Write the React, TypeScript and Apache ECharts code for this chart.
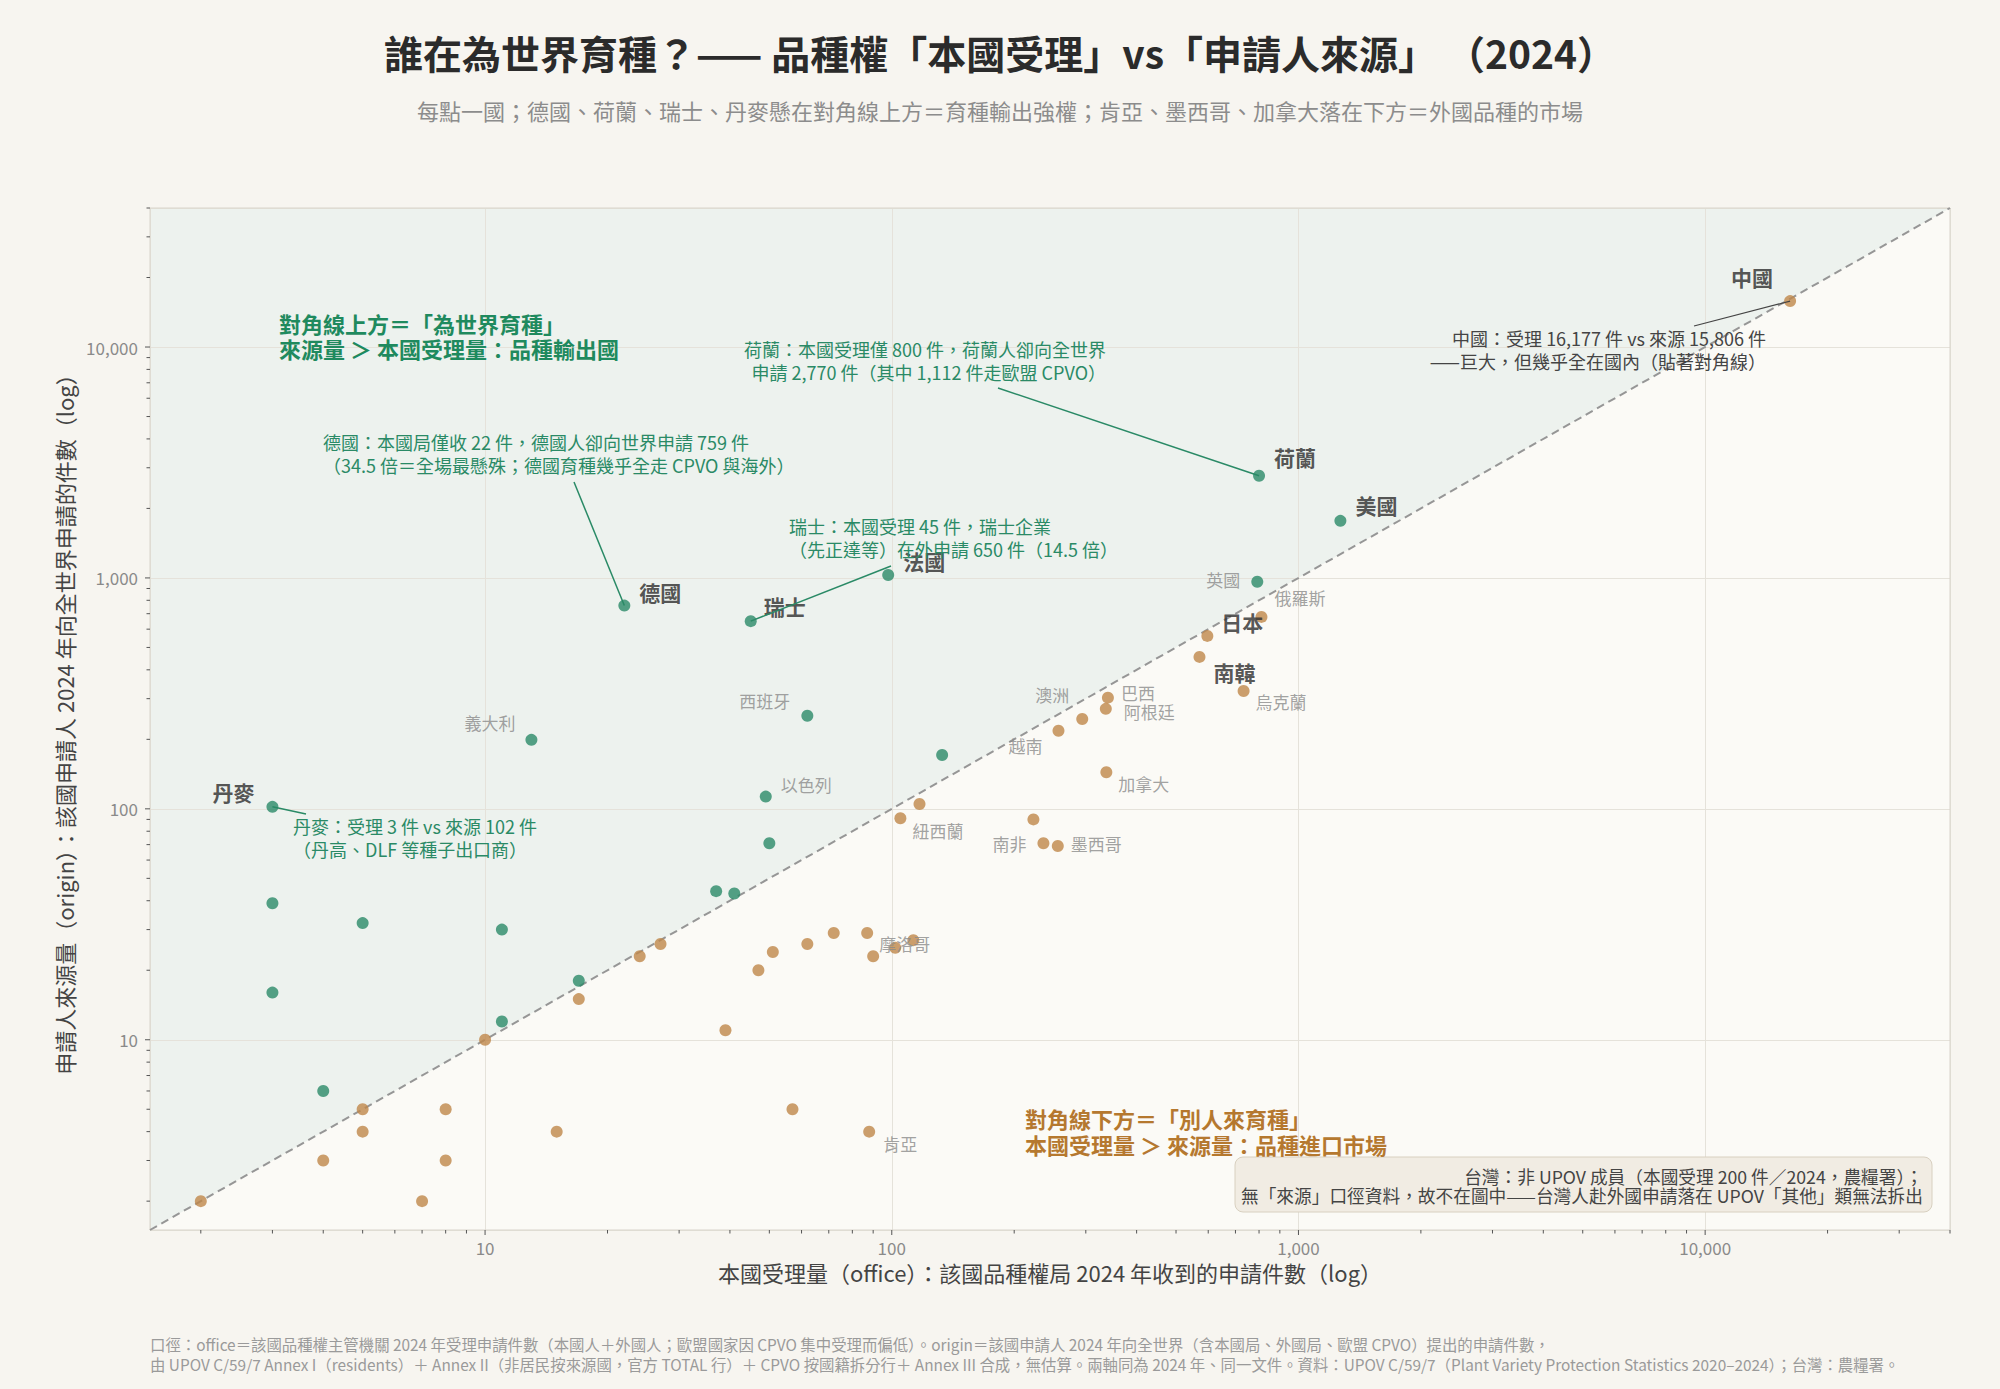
import React, { useEffect, useRef } from "react";
import * as echarts from "echarts";

const FONT = '"Noto Sans CJK TC", "Noto Sans", sans-serif';
const GREEN = "#2a8a68";
const BROWN = "#bf874a";
const NOTE_GREEN = "#2a8a66";

// 兩軸範圍（log）
const AXIS_MIN = 1.5;
const AXIS_MAX = 40000;

// 每點一國：本國受理量 (office) 與申請人來源量 (origin)
const names = [
  "中國", "荷蘭", "美國", "英國", "俄羅斯", "日本", "南韓", "烏克蘭",
  "法國", "德國", "瑞士", "丹麥", "義大利", "西班牙", "以色列",
  "巴西", "阿根廷", "澳洲", "越南", "加拿大", "紐西蘭", "南非", "墨西哥", "摩洛哥", "肯亞",
  "", "", "", "", "", "", "", "", "", "", "",
  "", "", "", "", "", "", "", "", "", "", "", "", "",
  "", "", "", "", "", "", "", "", "", "",
];
const office = [
  16177, 800, 1268, 792, 811, 597, 571, 733,
  98, 22, 45, 3, 13, 62, 49,
  340, 336, 294, 257, 337, 105, 236, 256, 87, 88,
  133, 50, 37, 41, 3, 5, 11, 3, 17, 11, 4,
  117, 223, 72, 62, 51, 47, 90, 102, 113, 39, 17, 24, 27,
  10, 5, 5, 8, 8, 4, 2, 7, 15, 57,
];
const origin = [
  15806, 2770, 1767, 962, 678, 561, 455, 324,
  1030, 759, 650, 102, 199, 253, 113,
  303, 271, 245, 218, 144, 91, 71, 69, 29, 4,
  171, 71, 44, 43, 39, 32, 30, 16, 18, 12, 6,
  105, 90, 29, 26, 24, 20, 23, 25, 27, 11, 15, 23, 26,
  10, 5, 4, 5, 3, 3, 2, 2, 4, 5,
];

// 軸刻度：10 的次方與其間的 2–9 倍
const majorTicks = [10, 100, 1000, 10000];
const minorSteps = [2, 3, 4, 5, 6, 7, 8, 9];

// 國名標籤的位置：[方向, 與點中心的水平距離, 垂直偏移, 粗體]
const labelPlace: Record<string, [string, number, number, boolean]> = {
  中國: ["left", 17, -24, true],
  荷蘭: ["right", 15, -19, true],
  美國: ["right", 15, -16, true],
  德國: ["right", 15, -14, true],
  瑞士: ["right", 13, -15, true],
  法國: ["right", 15, -14, true],
  日本: ["right", 14, -14, true],
  南韓: ["right", 14, 15, true],
  丹麥: ["left", 18, -15, true],
  英國: ["left", 17, -2, false],
  俄羅斯: ["right", 13, -19, false],
  烏克蘭: ["right", 12, 11, false],
  巴西: ["right", 13, -5, false],
  阿根廷: ["right", 18, 3, false],
  澳洲: ["left", 13, -24, false],
  越南: ["left", 16, 15, false],
  加拿大: ["right", 12, 11, false],
  紐西蘭: ["right", 12, 12, false],
  南非: ["left", 17, 0, false],
  墨西哥: ["right", 13, -3, false],
  摩洛哥: ["right", 12, 11, false],
  肯亞: ["right", 14, 12, false],
  以色列: ["right", 15, -12, false],
  西班牙: ["left", 17, -15, false],
  義大利: ["left", 16, -17, false],
};

// 註解文字（位置為畫面像素），from 是引線起點
const notes = [
  {
    country: "德國", x: 323, y: 442, align: "left", color: NOTE_GREEN, from: [574, 482],
    lines: ["德國：本國局僅收 22 件，德國人卻向世界申請 759 件", "（34.5 倍＝全場最懸殊；德國育種幾乎全走 CPVO 與海外）"],
  },
  {
    country: "荷蘭", x: 1106, y: 349, align: "right", color: NOTE_GREEN, from: [998, 388],
    lines: ["荷蘭：本國受理僅 800 件，荷蘭人卻向全世界", "申請 2,770 件（其中 1,112 件走歐盟 CPVO）"],
  },
  {
    country: "瑞士", x: 789, y: 526, align: "left", color: NOTE_GREEN, from: [891, 566],
    lines: ["瑞士：本國受理 45 件，瑞士企業", "（先正達等）在外申請 650 件（14.5 倍）"],
  },
  {
    country: "丹麥", x: 293, y: 826, align: "left", color: NOTE_GREEN, from: [306, 814],
    lines: ["丹麥：受理 3 件 vs 來源 102 件", "（丹高、DLF 等種子出口商）"],
  },
  {
    country: "中國", x: 1766, y: 338, align: "right", color: "#444", from: [1694, 326],
    lines: ["中國：受理 16,177 件 vs 來源 15,806 件", "——巨大，但幾乎全在國內（貼著對角線）"],
  },
];

const tickValues = (): number[] => {
  const out: number[] = [];
  for (const p of [1, ...majorTicks]) {
    for (const m of [1, ...minorSteps]) {
      const v = p * m;
      if (v > AXIS_MIN && v <= AXIS_MAX) out.push(v);
    }
  }
  return out;
};

const isMajor = (v: number) => majorTicks.includes(v);

const textEl = (text: string, x: number, y: number, opts: any = {}) => ({
  type: "text",
  x,
  y,
  z: 7,
  silent: true,
  style: {
    text,
    fill: opts.color || "#444",
    fontSize: opts.size || 18,
    fontWeight: opts.weight || "normal",
    fontFamily: FONT,
    align: opts.align || "left",
    textAlign: opts.align || "left",
    verticalAlign: "middle",
    textVerticalAlign: "middle",
  },
});

const App: React.FC = () => {
  const chartRef = useRef<HTMLDivElement>(null);

  useEffect(() => {
    if (!chartRef.current) return;
    const chart = echarts.init(chartRef.current, null, { renderer: "svg" });
    const ticks = tickValues();

    const points = names.map((n, i) => {
      const item: any = {
        name: n,
        value: [office[i], origin[i]],
        itemStyle: { color: origin[i] > office[i] ? GREEN : BROWN },
      };
      const place = labelPlace[n];
      if (n && place) {
        const [pos, dx, dy, bold] = place;
        item.label = {
          show: true,
          formatter: n,
          position: pos,
          distance: dx - 6,
          offset: [0, dy],
          fontFamily: FONT,
          fontSize: bold ? 21 : 17,
          fontWeight: bold ? "bold" : "normal",
          color: bold ? "#2b2b2b" : "#8a8a8a",
        };
      }
      return item;
    });

    const logLabel = (v: number) => {
      const l = Math.log10(v);
      return Math.abs(l - Math.round(l)) < 1e-6 ? Math.round(v).toLocaleString("en-US") : "";
    };

    const axisCommon = {
      type: "log",
      logBase: 10,
      min: AXIS_MIN,
      max: AXIS_MAX,
      z: 2,
      axisLine: { show: false },
      axisTick: { show: false },
      splitLine: { show: true, lineStyle: { color: "#e5e2da", width: 1 } },
      nameLocation: "middle",
      nameTextStyle: { fontFamily: FONT, fontSize: 22, color: "#444" },
    };

    chart.setOption({
      animation: false,
      backgroundColor: "#f7f5f0",
      textStyle: { fontFamily: FONT },
      title: {
        text: "誰在為世界育種？—— 品種權「本國受理」vs「申請人來源」 （2024）",
        subtext: "每點一國；德國、荷蘭、瑞士、丹麥懸在對角線上方＝育種輸出強權；肯亞、墨西哥、加拿大落在下方＝外國品種的市場",
        left: "center",
        top: 25,
        itemGap: 23,
        textStyle: { fontFamily: FONT, fontSize: 39, fontWeight: "bold", color: "#2b2b2b", lineHeight: 44 },
        subtextStyle: { fontFamily: FONT, fontSize: 22, color: "#8c8c8c", lineHeight: 26 },
      },
      grid: {
        left: 150,
        right: 50,
        top: 208,
        bottom: 159,
        show: true,
        z: 3,
        backgroundColor: "transparent",
        borderColor: "#d9d5cc",
        borderWidth: 1,
      },
      xAxis: {
        ...axisCommon,
        name: "本國受理量（office）：該國品種權局 2024 年收到的申請件數（log）",
        nameGap: 31,
        axisLabel: { color: "#8a8a8a", fontSize: 17, margin: 9, formatter: logLabel, showMinLabel: false, showMaxLabel: false },
      },
      yAxis: {
        ...axisCommon,
        name: "申請人來源量（origin）：該國申請人 2024 年向全世界申請的件數（log）",
        nameGap: 73,
        axisLabel: { color: "#8a8a8a", fontSize: 17, margin: 12, formatter: logLabel, showMinLabel: false, showMaxLabel: false },
      },
      series: [
        {
          // 對角線上下兩區的底色
          type: "custom",
          silent: true,
          z: 1,
          clip: false,
          data: [[AXIS_MIN, AXIS_MIN]],
          renderItem: (_p: any, api: any) => {
            const bl = api.coord([AXIS_MIN, AXIS_MIN]);
            const tl = api.coord([AXIS_MIN, AXIS_MAX]);
            const tr = api.coord([AXIS_MAX, AXIS_MAX]);
            const br = api.coord([AXIS_MAX, AXIS_MIN]);
            return {
              type: "group",
              children: [
                { type: "polygon", shape: { points: [bl, br, tr] }, style: { fill: "#fbfaf6" } },
                { type: "polygon", shape: { points: [bl, tl, tr] }, style: { fill: "#edf2ee" } },
              ],
            };
          },
        },
        {
          // y = x 對角線
          type: "line",
          silent: true,
          z: 4,
          showSymbol: false,
          data: [
            [AXIS_MIN, AXIS_MIN],
            [AXIS_MAX, AXIS_MAX],
          ],
          lineStyle: { color: "#969696", width: 2, type: [8, 5] },
        },
        {
          // x 軸刻度
          type: "custom",
          silent: true,
          z: 4,
          clip: false,
          data: ticks.map((v) => [v, AXIS_MIN]),
          renderItem: (_p: any, api: any) => {
            const v = api.value(0);
            const c = api.coord([v, api.value(1)]);
            const len = isMajor(v) ? 5 : 3.5;
            return { type: "line", shape: { x1: c[0], y1: c[1], x2: c[0], y2: c[1] + len }, style: { stroke: "#555", lineWidth: 1 } };
          },
        },
        {
          // y 軸刻度
          type: "custom",
          silent: true,
          z: 4,
          clip: false,
          data: ticks.map((v) => [AXIS_MIN, v]),
          renderItem: (_p: any, api: any) => {
            const v = api.value(1);
            const c = api.coord([api.value(0), v]);
            const len = isMajor(v) ? 5 : 3.5;
            return { type: "line", shape: { x1: c[0], y1: c[1], x2: c[0] - len, y2: c[1] }, style: { stroke: "#555", lineWidth: 1 } };
          },
        },
        {
          type: "scatter",
          z: 5,
          symbolSize: 12,
          label: { show: false },
          emphasis: { disabled: true },
          data: points,
        },
      ],
    });

    // 註解、引線與說明文字
    const graphics: any[] = [];
    notes.forEach((n) => {
      const i = names.indexOf(n.country);
      const p = chart.convertToPixel({ gridIndex: 0 }, [office[i], origin[i]]) as number[];
      graphics.push({
        type: "line",
        silent: true,
        z: 6,
        shape: { x1: n.from[0], y1: n.from[1], x2: p[0], y2: p[1] },
        style: { stroke: n.color, lineWidth: n.country === "中國" ? 1.2 : 1.5 },
      });
      n.lines.forEach((t, k) => {
        graphics.push(textEl(t, n.x, n.y + k * 23, { color: n.color, size: 18, align: n.align }));
      });
    });

    graphics.push(textEl("對角線上方＝「為世界育種」", 279, 323, { color: "#1f8a5e", size: 22, weight: "bold" }));
    graphics.push(textEl("來源量 ＞ 本國受理量：品種輸出國", 279, 348, { color: "#1f8a5e", size: 22, weight: "bold" }));
    graphics.push(textEl("對角線下方＝「別人來育種」", 1025, 1118, { color: "#b5782f", size: 22, weight: "bold" }));
    graphics.push(textEl("本國受理量 ＞ 來源量：品種進口市場", 1025, 1144, { color: "#b5782f", size: 22, weight: "bold" }));

    graphics.push({
      type: "rect",
      silent: true,
      z: 6,
      shape: { x: 1235, y: 1157, width: 697, height: 55, r: 8 },
      style: { fill: "#f1ece3", stroke: "#d8d0c0", lineWidth: 1 },
    });
    graphics.push(textEl("台灣：非 UPOV 成員（本國受理 200 件／2024，農糧署）；", 1923, 1176, { color: "#444", size: 17.7, align: "right" }));
    graphics.push(textEl("無「來源」口徑資料，故不在圖中——台灣人赴外國申請落在 UPOV「其他」類無法拆出", 1923, 1195, { color: "#444", size: 17.7, align: "right" }));

    graphics.push(
      textEl(
        "口徑：office＝該國品種權主管機關 2024 年受理申請件數（本國人＋外國人；歐盟國家因 CPVO 集中受理而偏低）。origin＝該國申請人 2024 年向全世界（含本國局、外國局、歐盟 CPVO）提出的申請件數，",
        150, 1344, { color: "#9a9a9a", size: 15.4 }
      )
    );
    graphics.push(
      textEl(
        "由 UPOV C/59/7 Annex I（residents）＋ Annex II（非居民按來源國，官方 TOTAL 行）＋ CPVO 按國籍拆分行＋ Annex III 合成，無估算。兩軸同為 2024 年、同一文件。資料：UPOV C/59/7（Plant Variety Protection Statistics 2020–2024）；台灣：農糧署。",
        150, 1364, { color: "#9a9a9a", size: 15.4 }
      )
    );

    chart.setOption({ graphic: graphics });

    return () => chart.dispose();
  }, []);

  return (
    <div
      ref={chartRef}
      style={{ position: "fixed", left: 0, top: 0, width: "2000px", height: "1389px", background: "#f7f5f0" }}
    />
  );
};

export default App;
